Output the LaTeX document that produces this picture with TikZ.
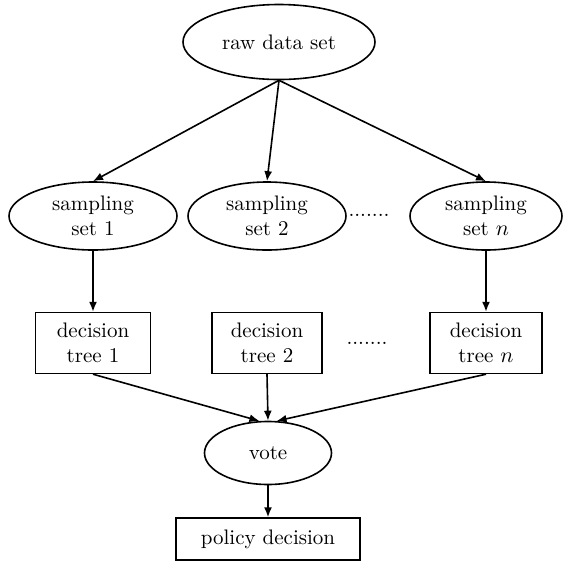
\documentclass[tikz,border=0pt]{standalone}
\usetikzlibrary{shapes.geometric,arrows.meta}
\tikzset{
  ell/.style={draw, ellipse, line width=0.8pt, align=center, inner sep=0pt},
  box/.style={draw, rectangle, line width=0.7pt, align=center, inner sep=0pt},
  arr/.style={-{Latex[length=5pt,width=4pt]}, line width=0.8pt}
}
\begin{document}
\begin{tikzpicture}[x=0.5pt,y=-0.5pt,font=\fontsize{10.5}{12.5}\selectfont]
    \useasboundingbox (0,0) rectangle (564,564);
    % raw data and the sampling sets
    \node[ell, minimum width=96pt, minimum height=37.5pt] (raw) at (279,42) {raw data set};
    \node[ell, minimum width=84pt, minimum height=34pt] (s1) at (93,216) {sampling\\set 1};
    \node[ell, minimum width=79pt, minimum height=34pt] (s2) at (267,216) {sampling\\set 2};
    \node[ell, minimum width=76pt, minimum height=34pt] (sn) at (486,216) {sampling\\set $n$};
    \node[anchor=base] (sdots) at (369,216) {.......};
    
    % decision trees
    \node[box, minimum width=57.5pt, minimum height=30.5pt] (t1) at (93,343) {decision\\tree 1};
    \node[box, minimum width=55pt, minimum height=30.5pt] (t2) at (267,343) {decision\\tree 2};
    \node[box, minimum width=56pt, minimum height=30.5pt] (tn) at (486,343) {decision\\tree $n$};
    \node[anchor=base] (tdots) at (367,344) {.......};
    
    % vote and result
    \node[ell, minimum width=63.5pt, minimum height=31.5pt] (vote) at (268,453) {vote};
    \node[box, minimum width=92pt, minimum height=21pt] (policy) at (268,539) {policy decision};
    
    % connectors
    \foreach \s in {s1,s2,sn} \draw[arr] (raw.south) -- (\s.north);
    \draw[arr] (s1.south) -- (t1.north);
    \draw[arr] (sn.south) -- (tn.north);
    \draw[arr] (t1.south) -- (vote.105);
    \draw[arr] (t2.south) -- (vote.north);
    \draw[arr] (tn.south) -- (vote.75);
    \draw[arr] (vote.south) -- (policy.north);
\end{tikzpicture}
\end{document}
